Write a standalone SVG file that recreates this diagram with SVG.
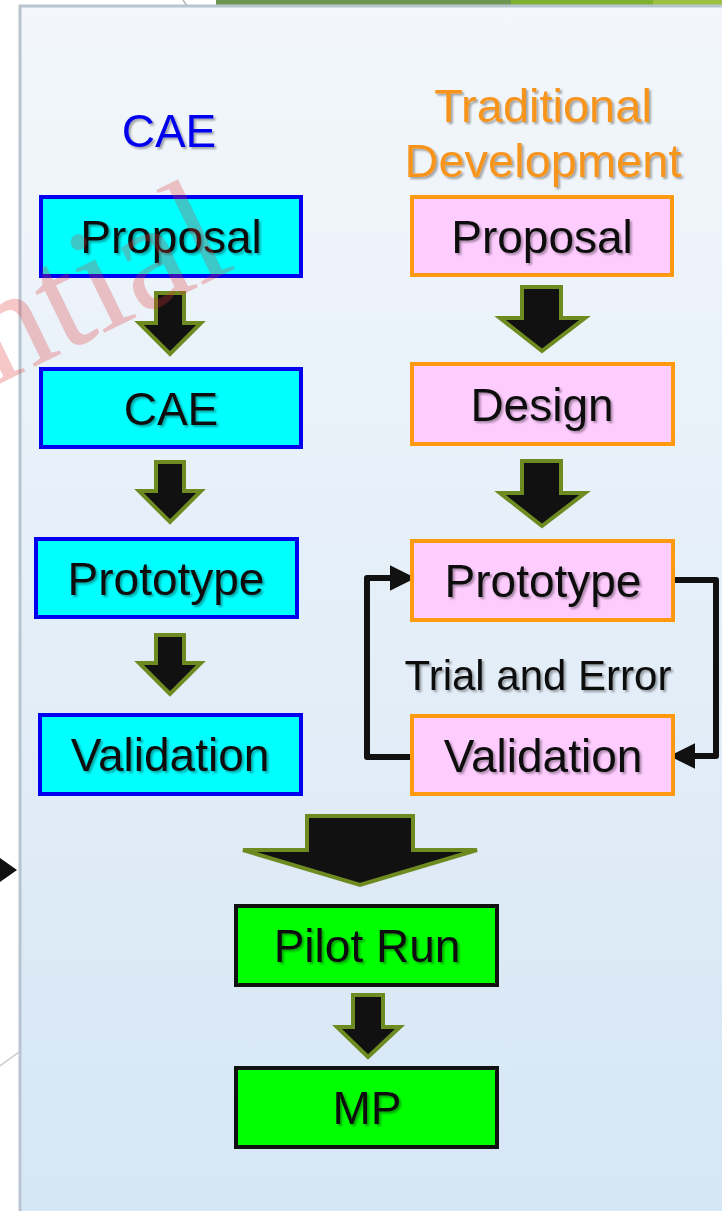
<svg xmlns="http://www.w3.org/2000/svg" width="722" height="1211" viewBox="0 0 722 1211">
<defs>
<linearGradient id="panelBg" x1="0" y1="0" x2="0" y2="1">
<stop offset="0" stop-color="#f3f7fb"/>
<stop offset="1" stop-color="#d5e6f5"/>
</linearGradient>
<filter id="shadow" x="-10%" y="-20%" width="130%" height="150%">
<feDropShadow dx="2" dy="2" stdDeviation="1.2" flood-color="#000" flood-opacity="0.35"/>
</filter>
<marker id="ah" viewBox="0 0 10 10" refX="9" refY="5" markerUnits="userSpaceOnUse" markerWidth="26" markerHeight="26" orient="auto">
<path d="M0,0 L10,5 L0,10 z" fill="#111"/>
</marker>
<style>
.cae{fill:#00ffff;stroke:#0000ee;stroke-width:4}
.trad{fill:#ffccff;stroke:#ff9a10;stroke-width:4}
.grn{fill:#00ff00;stroke:#111;stroke-width:4}
.lbl{font-family:"Liberation Sans",Arial,sans-serif;font-size:46px;fill:#111;text-anchor:middle;filter:url(#shadow)}
.arr{fill:#111;stroke:#6e8b22;stroke-width:4;stroke-linejoin:miter}
.loop{fill:none;stroke:#111;stroke-width:6;stroke-linejoin:round;stroke-linecap:round}
</style>
</defs>
<rect x="0" y="0" width="722" height="1211" fill="#ffffff"/>
<!-- top green bar -->
<rect x="216" y="0" width="295" height="5" fill="#6f9650"/>
<rect x="511" y="0" width="142" height="5" fill="#80b030"/>
<rect x="653" y="0" width="69" height="5" fill="#9cc143"/>
<line x1="183" y1="0" x2="187" y2="6" stroke="#b0b8c0" stroke-width="1.5"/>
<!-- panel -->
<rect x="20" y="6" width="730" height="1230" fill="url(#panelBg)" stroke="#b8c5d0" stroke-width="3"/>
<!-- outside fragments -->
<polygon points="0,858 17,870 0,882" fill="#111"/>
<line x1="0" y1="1066" x2="19" y2="1052" stroke="#c8c8c8" stroke-width="1.5"/>

<text id="title-cae" x="169" y="147" font-family="Liberation Sans, Arial, sans-serif" font-size="46" fill="#0000ee" text-anchor="middle" filter="url(#shadow)">CAE</text>
<text id="title-trad" font-family="Liberation Sans, Arial, sans-serif" font-size="47" fill="#f7941d" text-anchor="middle" filter="url(#shadow)"><tspan x="543" y="122">Traditional</tspan><tspan x="543" y="177">Development</tspan></text>

<g id="connectors">
<path class="arr" d="M156,293 H184 V323 H201 L170,354 L139,323 H156 Z"/>
<path class="arr" d="M156,462 H184 V491 H201 L170,522 L139,491 H156 Z"/>
<path class="arr" d="M156,635 H184 V663 H201 L170,694 L139,663 H156 Z"/>
<path class="arr" d="M522,287 H561 V318 H585 L542,351 L500,318 H522 Z"/>
<path class="arr" d="M522,461 H561 V493 H585 L542,526 L500,493 H522 Z"/>
<path class="arr" d="M307,816 H413 V850 H477 L360,885 L243,850 H307 Z"/>
<path class="arr" d="M353,995 H383 V1027 H400 L368,1057 L337,1027 H353 Z"/>
<path class="loop" d="M674,580 H716 V756 H672" marker-end="url(#ah)"/>
<path class="loop" d="M412,757 H367 V578 H413" marker-end="url(#ah)"/>
</g>

<g id="cae-proposal"><rect class="cae" x="41" y="197" width="260" height="79"/><text class="lbl" x="171" y="253">Proposal</text></g>
<g id="cae-cae"><rect class="cae" x="41" y="369" width="260" height="78"/><text class="lbl" x="171" y="425">CAE</text></g>
<g id="cae-prototype"><rect class="cae" x="36" y="539" width="261" height="78"/><text class="lbl" x="166" y="595">Prototype</text></g>
<g id="cae-validation"><rect class="cae" x="40" y="715" width="261" height="79"/><text class="lbl" x="170" y="771">Validation</text></g>

<g id="trad-proposal"><rect class="trad" x="412" y="197" width="260" height="78"/><text class="lbl" x="542" y="253">Proposal</text></g>
<g id="trad-design"><rect class="trad" x="412" y="364" width="261" height="80"/><text class="lbl" x="542" y="421">Design</text></g>
<g id="trad-prototype"><rect class="trad" x="412" y="541" width="261" height="79"/><text class="lbl" x="543" y="597">Prototype</text></g>
<g id="trad-validation"><rect class="trad" x="412" y="716" width="261" height="78"/><text class="lbl" x="543" y="772">Validation</text></g>
<text id="trial-label" x="538" y="690" font-family="Liberation Sans, Arial, sans-serif" font-size="42" fill="#111" text-anchor="middle" filter="url(#shadow)">Trial and Error</text>

<g id="pilot-run"><rect class="grn" x="236" y="906" width="261" height="79"/><text class="lbl" x="367" y="962">Pilot Run</text></g>
<g id="mp"><rect class="grn" x="236" y="1068" width="261" height="79"/><text class="lbl" x="367" y="1124">MP</text></g>

<text id="watermark" x="0" y="0" transform="translate(-5,386) rotate(-26)" font-family="Liberation Serif, Times New Roman, serif" font-size="152" fill="#e03535" fill-opacity="0.28">ntial</text>
</svg>
